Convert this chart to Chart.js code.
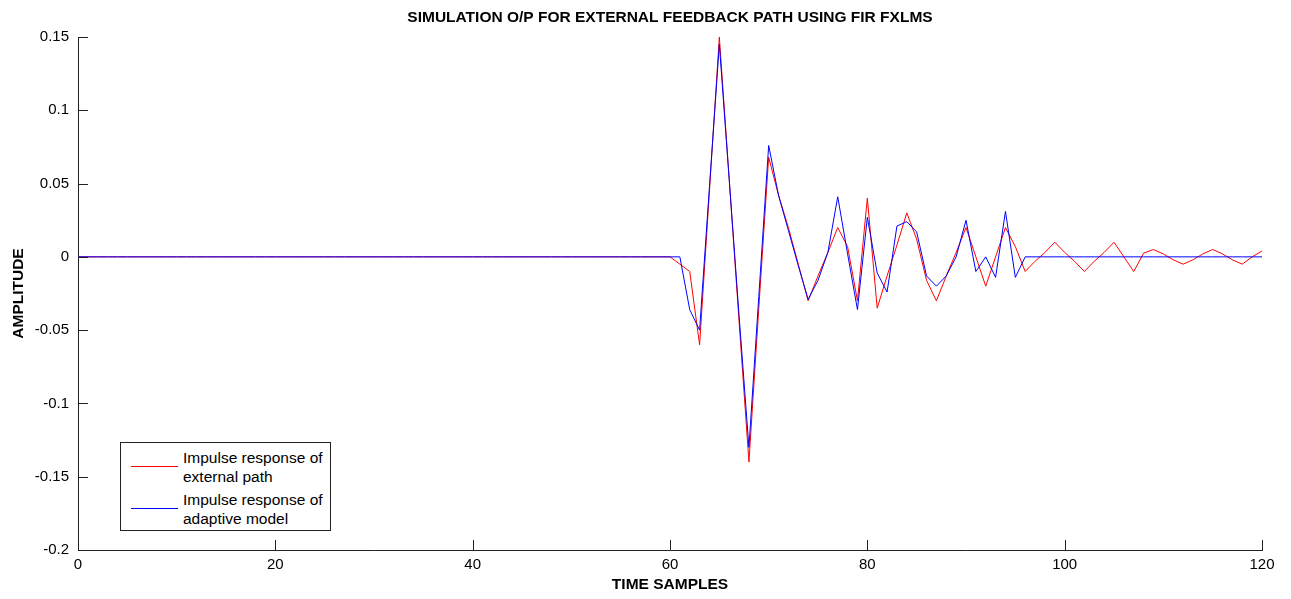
<!DOCTYPE html>
<html>
<head>
<meta charset="utf-8">
<script src="https://cdn.jsdelivr.net/npm/chart.js@4/dist/chart.umd.min.js"></script>
<style>
  html, body { margin: 0; padding: 0; background: #fff; }
  #wrap { position: relative; width: 1291px; height: 599px; }
  #legenda {
    position: absolute; left: 120px; top: 442px; width: 209px; height: 87px;
    border: 1px solid #222; background: #fff;
    font-family: "Liberation Sans", Arial, sans-serif; font-size: 15.5px; line-height: 19px; color: #000;
  }
  .item { position: absolute; left: 10px; }
  .item .amostra { position: absolute; left: 0; width: 47px; height: 1px; top: 18px; }
  .item .texto { position: absolute; left: 52px; top: 0; white-space: nowrap; }
</style>
</head>
<body>
<div id="wrap">
  <canvas id="grafico" width="1291" height="599"></canvas>
  <div id="legenda"></div>
</div>
<script>
// =========================
// DADOS
// =========================
const amostras = [];
for (let n = 0; n <= 120; n++) amostras.push(n);

// resposta ao impulso do caminho externo (vermelho)
const caminhoExterno = [
  0, 0, 0, 0, 0, 0, 0, 0, 0, 0, 0, 0, 0, 0, 0, 0, 0, 0, 0, 0,
  0, 0, 0, 0, 0, 0, 0, 0, 0, 0, 0, 0, 0, 0, 0, 0, 0, 0, 0, 0,
  0, 0, 0, 0, 0, 0, 0, 0, 0, 0, 0, 0, 0, 0, 0, 0, 0, 0, 0, 0,
  0, -0.005, -0.01, -0.06, 0.045, 0.15, 0.053, -0.044, -0.14, -0.035,
  0.068, 0.042, 0.02, -0.005, -0.03, -0.013, 0.003, 0.02, 0.007, -0.03,
  0.04, -0.035, -0.013, 0.008, 0.03, 0.012, -0.016, -0.03, -0.013, 0.003,
  0.02, 0.0, -0.02, 0.0, 0.02, 0.007, -0.01, -0.003, 0.003, 0.01,
  0.003, -0.003, -0.01, -0.003, 0.003, 0.01, 0.0, -0.01, 0.0025, 0.005,
  0.002, -0.002, -0.005, -0.002, 0.002, 0.005, 0.002, -0.002, -0.005, 0.0,
  0.004
];

// resposta ao impulso do modelo adaptativo (azul)
const modeloAdaptativo = [
  0, 0, 0, 0, 0, 0, 0, 0, 0, 0, 0, 0, 0, 0, 0, 0, 0, 0, 0, 0,
  0, 0, 0, 0, 0, 0, 0, 0, 0, 0, 0, 0, 0, 0, 0, 0, 0, 0, 0, 0,
  0, 0, 0, 0, 0, 0, 0, 0, 0, 0, 0, 0, 0, 0, 0, 0, 0, 0, 0, 0,
  0, 0, -0.036, -0.05, 0.048, 0.145, 0.053, -0.04, -0.13, -0.027,
  0.076, 0.042, 0.018, -0.006, -0.029, -0.016, 0.003, 0.041, 0.002, -0.036,
  0.027, -0.011, -0.024, 0.021, 0.024, 0.017, -0.013, -0.02, -0.013, 0.0,
  0.025, -0.01, 0.0, -0.014, 0.031, -0.014, 0, 0, 0, 0,
  0, 0, 0, 0, 0, 0, 0, 0, 0, 0,
  0, 0, 0, 0, 0, 0, 0, 0, 0, 0,
  0
];

const ticksX = [0, 20, 40, 60, 80, 100, 120];
const ticksY = [-0.2, -0.15, -0.1, -0.05, 0, 0.05, 0.1, 0.15];
const rotulosY = ["-0.2", "-0.15", "-0.1", "-0.05", "0", "0.05", "0.1", "0.15"];

const titulo = "SIMULATION O/P FOR EXTERNAL FEEDBACK PATH USING FIR FXLMS";
const nomes = [
  ["Impulse response of", "external path"],
  ["Impulse response of", "adaptive model"]
];
const cores = ["#ff0000", "#0000ff"];

const fonte = '"Liberation Sans", Arial, sans-serif';

// =========================
// TICKS PARA DENTRO + TITULO
// =========================
const extras = {
  id: "extras",
  afterDraw(chart) {
    const ctx = chart.ctx;
    const area = chart.chartArea;
    const sx = chart.scales.x;
    const sy = chart.scales.y;
    ctx.save();
    ctx.strokeStyle = "#222";
    ctx.lineWidth = 1;
    ctx.beginPath();
    ticksX.forEach(v => {
      const px = Math.round(sx.getPixelForValue(v)) + 0.5;
      ctx.moveTo(px, area.bottom);
      ctx.lineTo(px, area.bottom - 10);
    });
    ticksY.forEach(v => {
      const py = Math.round(sy.getPixelForValue(v)) + 0.5;
      ctx.moveTo(area.left, py);
      ctx.lineTo(area.left + 10, py);
    });
    ctx.stroke();

    ctx.fillStyle = "#000";
    ctx.font = "bold 15.5px " + fonte;
    ctx.textAlign = "center";
    ctx.textBaseline = "middle";
    ctx.fillText(titulo, (area.left + area.right) / 2, 18);
    ctx.restore();
  }
};

const pontos = serie => amostras.map((n, i) => ({ x: n, y: serie[i] }));

new Chart(document.getElementById("grafico"), {
  type: "line",
  data: {
    datasets: [
      {
        label: nomes[0].join(" "),
        data: pontos(caminhoExterno),
        borderColor: cores[0],
        borderWidth: 1,
        pointRadius: 0,
        tension: 0,
        order: 2
      },
      {
        label: nomes[1].join(" "),
        data: pontos(modeloAdaptativo),
        borderColor: cores[1],
        borderWidth: 1,
        pointRadius: 0,
        tension: 0,
        order: 1
      }
    ]
  },
  options: {
    responsive: false,
    animation: false,
    layout: { padding: { top: 37, right: 29, left: 0, bottom: 0 } },
    plugins: {
      legend: { display: false },
      tooltip: { enabled: false },
      title: { display: false }
    },
    scales: {
      x: {
        type: "linear",
        min: 0,
        max: 120,
        afterBuildTicks: s => { s.ticks = ticksX.map(v => ({ value: v })); },
        afterFit: s => { s.height = 49; },
        grid: { display: false, drawTicks: false },
        border: { display: true, color: "#222", width: 1 },
        ticks: { color: "#000", padding: 6, font: { family: fonte, size: 15 } },
        title: {
          display: true,
          text: "TIME SAMPLES",
          color: "#000",
          font: { family: fonte, size: 15.5, weight: "bold" },
          padding: { top: 0, bottom: 5 }
        }
      },
      y: {
        type: "linear",
        min: -0.2,
        max: 0.15,
        afterBuildTicks: s => { s.ticks = ticksY.map(v => ({ value: v })); },
        afterFit: s => { s.width = 78; },
        grid: { display: false, drawTicks: false },
        border: { display: true, color: "#222", width: 1 },
        ticks: {
          color: "#000",
          padding: 9,
          font: { family: fonte, size: 15 },
          callback: (v, i) => rotulosY[i]
        },
        title: {
          display: true,
          text: "AMPLITUDE",
          color: "#000",
          font: { family: fonte, size: 15.5, weight: "bold" },
          padding: { top: 9, bottom: 0 }
        }
      }
    }
  },
  plugins: [extras]
});

// =========================
// LEGENDA
// =========================
const legenda = document.getElementById("legenda");
nomes.forEach((linhas, i) => {
  const item = document.createElement("div");
  item.className = "item";
  item.style.top = (5 + i * 42) + "px";
  item.innerHTML =
    `<div class="amostra" style="background:${cores[i]}"></div>` +
    `<div class="texto">${linhas.join("<br>")}</div>`;
  legenda.appendChild(item);
});
</script>
</body>
</html>
